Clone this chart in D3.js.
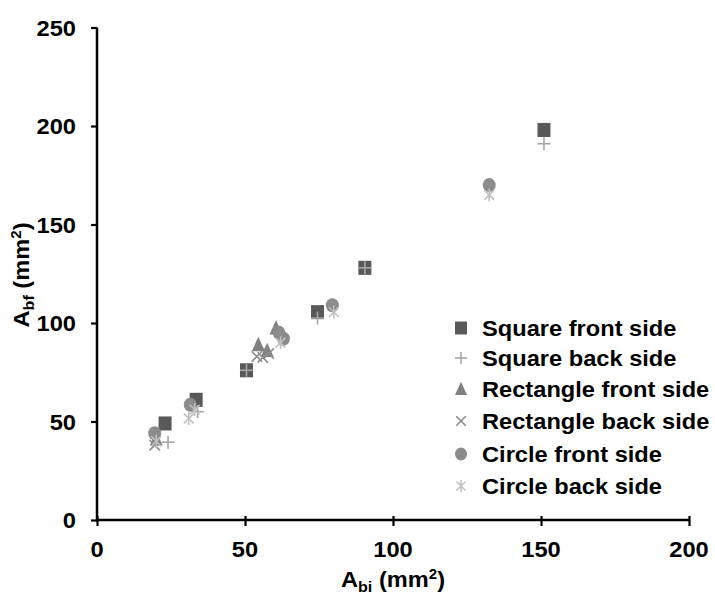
<!DOCTYPE html>
<html>
<head>
<meta charset="utf-8">
<script src="https://cdn.jsdelivr.net/npm/d3@7"></script>
<style>
  body { margin: 0; background: #fff; }
  svg text { font-family: "Liberation Sans", Arial, sans-serif; font-weight: bold; fill: #000; }
</style>
</head>
<body>
<div id="chart"></div>
<script>
// data: [A_bi, A_bf]
var squareFront = [[23, 49], [33.5, 61], [50.5, 76], [74.5, 105.5], [90.5, 128], [151, 198]];
var squareBack = [[24, 39.5], [34, 55], [50.5, 76], [74.5, 102.5], [90.5, 128], [151, 191]];
var rectFront = [[20, 41], [54.5, 89], [57.5, 86], [60.5, 97.5]];
var rectBack = [[19.5, 38], [54, 83], [56, 82.5], [58, 84.5]];
var circleFront = [[19.5, 44], [31.5, 58.5], [61.5, 95], [63, 92], [79.5, 109], [132.5, 170]];
var circleBack = [[20, 40], [31, 51.5], [33, 56], [62, 90], [80, 105.5], [132.5, 165]];

var seriesNames = ["Square front side", "Square back side", "Rectangle front side",
                   "Rectangle back side", "Circle front side", "Circle back side"];
var xTicks = [0, 50, 100, 150, 200];
var yTicks = [0, 50, 100, 150, 200, 250];

var W = 715, H = 594;
var stretch = 1.075; // the reference text is a bit wider than the font

var svg = d3.select("#chart").append("svg")
    .attr("width", W)
    .attr("height", H);

var xScale = d3.scaleLinear().domain([0, 200]).range([97, 689]);
var yScale = d3.scaleLinear().domain([0, 250]).range([520, 27.5]);

// symbol drawers, each draws centred on 0,0 inside g
var styles = [
    { kind: "square", color: "#595959" },
    { kind: "plus", color: "#a6a6a6" },
    { kind: "triangle", color: "#808080" },
    { kind: "x", color: "#8c8c8c" },
    { kind: "circle", color: "#8c8c8c" },
    { kind: "star", color: "#c0c0c0" }
];

function drawMarker(g, st, s) {
    var h = s / 2;
    if (st.kind == "square") {
        g.append("rect").attr("x", -h).attr("y", -h * 1.08).attr("width", s).attr("height", s * 1.08)
            .attr("fill", st.color);
    } else if (st.kind == "circle") {
        g.append("ellipse").attr("rx", h).attr("ry", h * 1.08).attr("fill", st.color);
    } else if (st.kind == "triangle") {
        g.append("path").attr("d", "M0," + (-h * 1.2) + "L" + h + "," + h + "L" + (-h) + "," + h + "Z")
            .attr("fill", st.color);
    } else {
        var lines = [];
        if (st.kind == "plus") lines = [[-h, 0, h, 0], [0, -h, 0, h]];
        if (st.kind == "x") lines = [[-h * 0.8, -h * 0.8, h * 0.8, h * 0.8], [-h * 0.8, h * 0.8, h * 0.8, -h * 0.8]];
        if (st.kind == "star") lines = [[-h * 0.75, -h * 0.75, h * 0.75, h * 0.75], [-h * 0.75, h * 0.75, h * 0.75, -h * 0.75], [0, -h, 0, h]];
        lines.forEach(function(l) {
            g.append("line").attr("x1", l[0]).attr("y1", l[1]).attr("x2", l[2]).attr("y2", l[3])
                .attr("stroke", st.color).attr("stroke-width", 1.6);
        });
    }
}

// axes
var yAxis = d3.axisLeft(yScale).tickValues(yTicks).tickSize(6).tickFormat("");
var xAxis = d3.axisBottom(xScale).tickValues(xTicks).tickSize(6).tickFormat("");

svg.append("g").attr("class", "y axis")
    .attr("transform", "translate(97,0)")
    .call(yAxis);
svg.append("g").attr("class", "x axis")
    .attr("transform", "translate(0,520)")
    .call(xAxis);

// x ticks cross the axis line a little
svg.select(".x.axis").selectAll(".tick line").attr("y1", -4);

svg.selectAll(".axis path").attr("stroke", "#000").attr("stroke-width", 2.5).attr("d", null);
svg.selectAll(".axis .tick line").attr("stroke", "#000").attr("stroke-width", 2.2);
svg.select(".y.axis path").attr("d", "M0," + yScale(250) + "V" + yScale(0));
svg.select(".x.axis path").attr("d", "M" + xScale(0) + ",0H" + xScale(200));

function stretchedText(x, y, anchor, rot) {
    var g = svg.append("g").attr("transform", "translate(" + x + "," + y + ")" + (rot ? " rotate(" + rot + ")" : ""));
    return g.append("text")
        .attr("transform", "scale(" + stretch + ",1)")
        .attr("text-anchor", anchor)
        .style("font-size", "22px");
}

// tick labels
yTicks.forEach(function(v) {
    stretchedText(76, yScale(v) + 8, "end").text(v);
});
xTicks.forEach(function(v) {
    stretchedText(xScale(v), 557, "middle").text(v);
});

// axis titles with sub and superscripts
function axisTitle(t, sub) {
    t.append("tspan").text("A");
    t.append("tspan").text(sub).attr("dy", 5).style("font-size", "15px");
    t.append("tspan").text(" (mm").attr("dy", -5);
    t.append("tspan").text("2").attr("dy", -8).style("font-size", "14px");
    t.append("tspan").text(")").attr("dy", 8);
}
axisTitle(stretchedText(393, 587, "middle"), "bi");
axisTitle(stretchedText(29, 275, "middle", -90), "bf");

// points, later series drawn on top
var allSeries = [squareFront, squareBack, rectFront, rectBack, circleFront, circleBack];
allSeries.forEach(function(data, i) {
    svg.append("g").attr("class", "series" + i)
        .selectAll("g")
        .data(data)
        .enter().append("g")
        .attr("transform", function(d) {
            return "translate(" + xScale(d[0]) + "," + yScale(d[1]) + ")";
        })
        .each(function() {
            drawMarker(d3.select(this), styles[i], 13);
        });
});

// legend
var legendY = [328, 358, 389, 421, 454, 486];
seriesNames.forEach(function(name, i) {
    var g = svg.append("g").attr("transform", "translate(461," + legendY[i] + ")");
    drawMarker(g, styles[i], 12);
    stretchedText(482, legendY[i] + 8, "start").text(name);
});
</script>
</body>
</html>
